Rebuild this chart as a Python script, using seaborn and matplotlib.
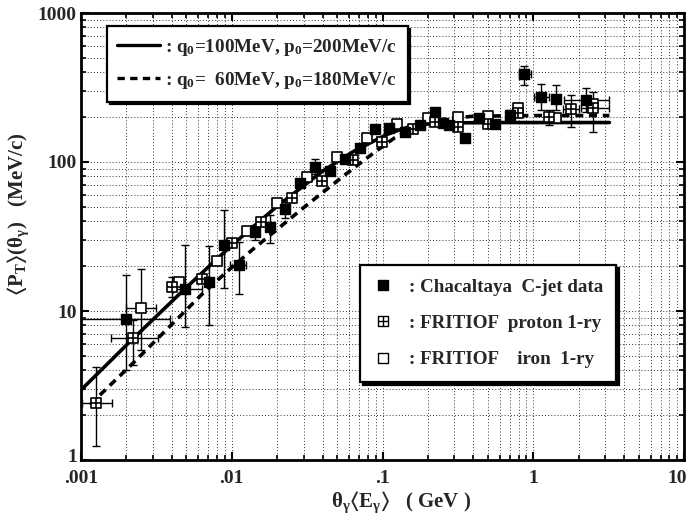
import numpy as np
import pandas as pd
import matplotlib
matplotlib.use("Agg")
import matplotlib.pyplot as plt
from matplotlib.path import Path
from matplotlib.lines import Line2D
from matplotlib.transforms import ScaledTranslation
from matplotlib.ticker import FixedLocator, FixedFormatter, LogLocator, NullFormatter
import seaborn as sns

nan = np.nan

# Chacaltaya C-jet data
black_x = [0.0020, 0.0049, 0.0071, 0.0089, 0.0112, 0.0142, 0.0179, 0.0224, 0.0282, 0.0355,
           0.0446, 0.056, 0.0705, 0.0886, 0.110, 0.140, 0.178, 0.224, 0.251, 0.278,
           0.355, 0.438, 0.56, 0.70, 0.87, 1.125, 1.41, 2.23]
black_y = [8.8, 14.0, 15.6, 27.7, 20.4, 34.1, 36.5, 48.2, 72.6, 93,
           87, 104, 124, 166, 170, 160, 178, 218, 182, 178,
           144, 196, 179, 207, 390, 274, 264, 261]
black_ylo = [4.0, 7.85, 8.07, 14.2, 13.1, 30, 28.5, 42, nan, 83,
             nan, nan, nan, nan, nan, nan, nan, nan, nan, nan,
             nan, nan, nan, 194, 329, 223, 223, 218]
black_yhi = [17.4, 27.7, 27.5, 47.6, 29.2, 38, 44, 54, nan, 104,
             nan, nan, nan, nan, nan, nan, nan, nan, nan, nan,
             nan, nan, nan, 223, 441, 334, 329, 312]
black_xlo = [0.00085, 0.0041, nan, nan, 0.0098, nan, nan, nan, nan, nan,
             nan, nan, nan, nan, nan, nan, nan, nan, nan, nan,
             nan, nan, nan, nan, 0.808, 1.016, nan, 1.60]
black_xhi = [0.0039, 0.0063, nan, nan, 0.0125, nan, nan, nan, nan, nan,
             nan, nan, nan, nan, nan, nan, nan, nan, nan, nan,
             nan, nan, nan, nan, 0.966, 1.277, nan, 3.18]

# FRITIOF, proton primary
prot_x = [0.00126, 0.0022, 0.0040, 0.0063, 0.0100, 0.0157, 0.0250, 0.0399, 0.0635,
          0.0996, 0.159, 0.224, 0.316, 0.50, 0.79, 1.28, 1.78, 2.50]
prot_y = [2.4, 6.6, 14.6, 16.3, 28.5, 39.7, 57.6, 74.5, 103,
          137, 166, 186, 172, 179, 214, 200, 227, 229]
prot_ylo = [1.24, 4.34, 12.5, nan, nan, nan, nan, nan, nan,
            nan, nan, nan, nan, nan, nan, 177, 171, 160]
prot_yhi = [4.23, 8.7, 17.0, nan, nan, nan, nan, nan, nan,
            nan, nan, nan, nan, nan, nan, 223, 282, 296]
prot_xlo = [0.00101, 0.00159, nan, nan, nan, nan, nan, nan, nan,
            nan, nan, nan, nan, nan, nan, nan, 1.57, 2.07]
prot_xhi = [0.00160, 0.00323, nan, nan, nan, nan, nan, nan, nan,
            nan, nan, nan, nan, nan, nan, nan, 2.00, 3.18]

# FRITIOF, iron primary
iron_x = [0.0025, 0.0045, 0.0080, 0.0127, 0.0200, 0.0316, 0.0498, 0.0787,
          0.125, 0.1995, 0.316, 0.50, 0.79, 1.41, 2.50]
iron_y = [10.5, 15.6, 21.8, 34.6, 53.3, 79.7, 107.5, 146,
          179, 197, 202, 204, 231, 197, 245]
iron_ylo = [5.47] + [nan] * 14
iron_yhi = [19.1] + [nan] * 14
iron_xlo = [0.00199] + [nan] * 14
iron_xhi = [0.00315] + [nan] * 14

# Model curves
solid_x = [0.001, 0.002, 0.005, 0.01, 0.02, 0.04, 0.0635, 0.08, 0.1057, 0.12,
           0.15, 0.2, 0.25, 0.3, 0.5, 1.0, 3.2]
solid_y = [2.95, 5.9, 14.4, 27.6, 50.5, 86.7, 117, 132, 152, 160,
           172, 180, 182, 183, 184, 184, 184]
dash_x = [0.00115, 0.0013, 0.00221, 0.00377, 0.00627, 0.00942, 0.01384, 0.0296,
          0.0546, 0.0863, 0.12, 0.18, 0.25, 0.4, 1.0, 3.2]
dash_y = [2.35, 2.66, 4.46, 7.65, 12.8, 18.6, 26.0, 48.9,
          80, 114, 145, 178, 193, 203, 205, 205]

legend_curves = [": q$_0$=100MeV, p$_0$=200MeV/c", ": q$_0$=  60MeV, p$_0$=180MeV/c"]
legend_points = [": Chacaltaya  C-jet data", ": FRITIOF  proton 1-ry", ": FRITIOF    iron  1-ry"]

x_ticks = [0.001, 0.01, 0.1, 1, 10]
x_ticklabels = [".001", ".01", ".1", "1", "10"]
y_ticks = [1, 10, 100, 1000]
y_ticklabels = ["1", "10", "100", "1000"]

sns.set_style("ticks")
plt.rcParams["font.family"] = ["Liberation Serif", "DejaVu Serif"]
plt.rcParams["font.weight"] = "bold"
plt.rcParams["mathtext.fontset"] = "custom"
plt.rcParams["mathtext.rm"] = "Liberation Serif:bold"
plt.rcParams["mathtext.bf"] = "Liberation Serif:bold"
plt.rcParams["mathtext.it"] = "Liberation Serif:bold:italic"
plt.rcParams["mathtext.default"] = "rm"
plt.rcParams["mathtext.fallback"] = "stix"

fig = plt.figure(figsize=(6.89, 5.14), dpi=100)
ax = fig.add_axes([81 / 689, 54 / 514, 603 / 689, 447 / 514])
ax.set_xscale("log")
ax.set_yscale("log")
ax.set_xlim(0.001, 10)
ax.set_ylim(1, 1000)

# grid on every decade subdivision
ax.xaxis.set_minor_locator(LogLocator(base=10, subs=np.arange(2, 10)))
ax.yaxis.set_minor_locator(LogLocator(base=10, subs=np.arange(2, 10)))
ax.xaxis.set_minor_formatter(NullFormatter())
ax.yaxis.set_minor_formatter(NullFormatter())
ax.grid(True, which="both", color="0.2", linewidth=0.7, linestyle=(0, (1, 2.2)))
ax.set_axisbelow(True)

# crossed-square marker
boxplus = Path([(-1, -1), (1, -1), (1, 1), (-1, 1), (-1, -1),
                (0, -1), (0, 1), (-1, 0), (1, 0)],
               [Path.MOVETO, Path.LINETO, Path.LINETO, Path.LINETO, Path.CLOSEPOLY,
                Path.MOVETO, Path.LINETO, Path.MOVETO, Path.LINETO])

curves = pd.concat([
    pd.DataFrame({"x": solid_x, "y": solid_y, "model": "a"}),
    pd.DataFrame({"x": dash_x, "y": dash_y, "model": "b"}),
])
sns.lineplot(data=curves[curves.model == "a"], x="x", y="y", ax=ax, color="black",
             linewidth=2.6, estimator=None, sort=False, legend=False, zorder=3)
sns.lineplot(data=curves[curves.model == "b"], x="x", y="y", ax=ax, color="black",
             linewidth=2.6, estimator=None, sort=False, legend=False, zorder=3,
             linestyle=(0, (2.2, 1.6)))


def draw_errors(x, y, lo, hi, axis):
    x = np.asarray(x); y = np.asarray(y)
    lo = np.asarray(lo); hi = np.asarray(hi)
    m = np.isfinite(lo)
    if not m.any():
        return
    if axis == "y":
        ax.errorbar(x[m], y[m], yerr=[y[m] - lo[m], hi[m] - y[m]], fmt="none",
                    ecolor="black", elinewidth=1.0, capsize=3.2, capthick=1.0, zorder=4)
    else:
        ax.errorbar(x[m], y[m], xerr=[x[m] - lo[m], hi[m] - x[m]], fmt="none",
                    ecolor="black", elinewidth=1.0, capsize=3.2, capthick=1.0, zorder=4)


for xs, ys, ylo, yhi, xlo, xhi in [
    (black_x, black_y, black_ylo, black_yhi, black_xlo, black_xhi),
    (prot_x, prot_y, prot_ylo, prot_yhi, prot_xlo, prot_xhi),
    (iron_x, iron_y, iron_ylo, iron_yhi, iron_xlo, iron_xhi),
]:
    draw_errors(xs, ys, ylo, yhi, "y")
    draw_errors(xs, ys, xlo, xhi, "x")

msize = 48
sns.scatterplot(x=iron_x, y=iron_y, ax=ax, marker="s", s=msize, color="white",
                edgecolor="black", linewidth=1.2, zorder=5, legend=False)
sns.scatterplot(x=prot_x, y=prot_y, ax=ax, marker=boxplus, s=msize, color="white",
                edgecolor="black", linewidth=1.2, zorder=5, legend=False)
sns.scatterplot(x=black_x, y=black_y, ax=ax, marker="s", s=msize, color="black",
                edgecolor="black", linewidth=1.0, zorder=6, legend=False)

# axes, ticks and labels
for s in ax.spines.values():
    s.set_visible(True)
    s.set_linewidth(2.0)
    s.set_color("black")
ax.tick_params(which="both", direction="in", top=True, right=True, color="black")
ax.tick_params(which="major", length=6, width=1.5, labelsize=14, pad=7)
ax.tick_params(which="minor", length=3.5, width=1.2)
ax.tick_params(axis="y", which="major", pad=3)
ax.xaxis.set_major_locator(FixedLocator(x_ticks))
ax.xaxis.set_major_formatter(FixedFormatter(x_ticklabels))
ax.yaxis.set_major_locator(FixedLocator(y_ticks))
ax.yaxis.set_major_formatter(FixedFormatter(y_ticklabels))
for lab in ax.get_xticklabels() + ax.get_yticklabels():
    lab.set_fontweight("bold")
# keep the last decade label inside the canvas
last = ax.get_xticklabels()[-1]
last.set_transform(last.get_transform() + ScaledTranslation(-5 / 72, 0, fig.dpi_scale_trans))
# lift the lowest y label a touch above the x labels
first = ax.get_yticklabels()[0]
first.set_transform(first.get_transform() + ScaledTranslation(0, 3 / 72, fig.dpi_scale_trans))

ax.set_xlabel(r"$\theta_\gamma\langle$E$_\gamma\rangle$   ( GeV )", fontsize=15,
              fontweight="bold")
ax.xaxis.set_label_coords(0.53, -0.066)
ax.set_ylabel(r"$\langle$P$_\mathrm{T}\rangle$($\theta_\gamma$)   (MeV/c)", fontsize=15,
              fontweight="bold")
ax.yaxis.set_label_coords(-0.083, 0.55)

# legends
h1 = [Line2D([], [], color="black", linewidth=2.4),
      Line2D([], [], color="black", linewidth=2.4, linestyle=(0, (2.2, 1.6)))]
leg1 = ax.legend(h1, legend_curves, loc="upper left", bbox_to_anchor=(0.043, 0.971),
                 frameon=True, fancybox=False, shadow={"color": "black", "alpha": 1},
                 fontsize=13.8, handlelength=2.2, handletextpad=0.3, labelspacing=0.65,
                 borderpad=0.55, borderaxespad=0, framealpha=1)
leg1.get_frame().set_edgecolor("black")
leg1.get_frame().set_linewidth(1.6)
for t in leg1.get_texts():
    t.set_fontweight("bold")
ax.add_artist(leg1)

h2 = [Line2D([], [], linestyle="none", marker="s", markersize=6.5, markerfacecolor="black",
             markeredgecolor="black"),
      Line2D([], [], linestyle="none", marker=boxplus, markersize=6.5, markerfacecolor="white",
             markeredgecolor="black", markeredgewidth=1.0),
      Line2D([], [], linestyle="none", marker="s", markersize=6.5, markerfacecolor="white",
             markeredgecolor="black", markeredgewidth=1.0)]
leg2 = ax.legend(h2, legend_points, loc="upper left", bbox_to_anchor=(0.463, 0.436),
                 frameon=True, fancybox=False, shadow={"color": "black", "alpha": 1},
                 fontsize=13.7, handlelength=1.0, handletextpad=0.85, labelspacing=1.0,
                 borderpad=0.7, borderaxespad=0, framealpha=1)
leg2.get_frame().set_edgecolor("black")
leg2.get_frame().set_linewidth(1.6)
for t in leg2.get_texts():
    t.set_fontweight("bold")

fig.savefig("out.png", dpi=100, facecolor="white")
